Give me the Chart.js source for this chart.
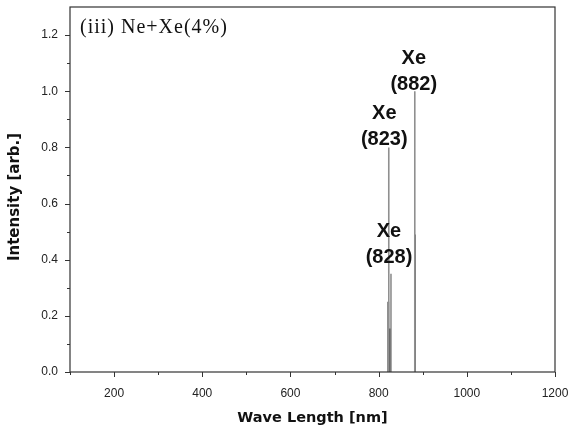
<!DOCTYPE html>
<html>
<head>
<meta charset="utf-8">
<script src="https://cdn.jsdelivr.net/npm/chart.js@4"></script>
<style>
  html, body { margin: 0; padding: 0; background: #fff; }
  #wrap { width: 572px; height: 434px; }
</style>
</head>
<body>
<div id="wrap"><canvas id="spectrum" width="572" height="434"></canvas></div>
<script>
// emission lines, wavelength in nm / relative intensity
const greyLines = [823, 828, 882];
const greyIntensity = [0.8, 0.35, 1.0];
const blackLines = [822, 826, 882];
const blackIntensity = [0.25, 0.155, 0.49];

const xTicks = [200, 400, 600, 800, 1000, 1200];
const yTicks = [0.0, 0.2, 0.4, 0.6, 0.8, 1.0, 1.2];

const peakLabels = ['Xe\n(882)', 'Xe\n(823)', 'Xe\n(828)'];
const peakLabelAt = [882, 823, 828];
const peakLabelLevel = [1.0, 0.8, 0.35];

// each line goes up from the baseline and back down, null breaks the path
function spikes(xs, ys) {
  const pts = [];
  xs.forEach((x, i) => {
    pts.push({ x: x, y: 0 }, { x: x, y: ys[i] }, { x: x, y: null });
  });
  return pts;
}

// pixel nudge of each label block relative to its line top
const labelShift = [[-1, -1], [-4.5, -2], [-2, -11]];

const frame = {
  id: 'frame',
  afterDraw(chart) {
    const { ctx, chartArea: a, scales } = chart;
    ctx.save();
    ctx.strokeStyle = '#333';
    ctx.lineWidth = 1.2;
    ctx.strokeRect(a.left, a.top, a.right - a.left, a.bottom - a.top);

    // outside ticks, major + minor
    ctx.lineWidth = 1;
    ctx.beginPath();
    for (let v = 100; v <= 1200; v += 100) {
      const px = Math.round(scales.x.getPixelForValue(v)) + 0.5;
      const len = v % 200 === 0 ? 5 : 3;
      ctx.moveTo(px, a.bottom);
      ctx.lineTo(px, a.bottom + len);
    }
    for (let i = 0; i <= 12; i++) {
      const py = Math.round(scales.y.getPixelForValue(i / 10)) + 0.5;
      const len = i % 2 === 0 ? 5 : 3;
      ctx.moveTo(a.left, py);
      ctx.lineTo(a.left - len, py);
    }
    ctx.stroke();

    // y axis title, sits a bit below the middle of the axis
    ctx.fillStyle = '#111';
    ctx.save();
    ctx.translate(15, 197);
    ctx.rotate(-Math.PI / 2);
    ctx.font = 'bold 15px "DejaVu Sans", Verdana, sans-serif';
    ctx.textAlign = 'center';
    ctx.textBaseline = 'middle';
    ctx.fillText('Intensity [arb.]', 0, 0);
    ctx.restore();

    // sample caption
    ctx.font = '20px "Liberation Serif", "Times New Roman", serif';
    ctx.letterSpacing = '1px';
    ctx.textBaseline = 'middle';
    ctx.textAlign = 'left';
    ctx.fillText('(iii) Ne+Xe(4%)', a.left + 10, 28);
    ctx.letterSpacing = '0px';

    // line labels
    ctx.font = 'bold 20px "Liberation Sans", Arial, sans-serif';
    ctx.textAlign = 'center';
    ctx.textBaseline = 'alphabetic';
    peakLabels.forEach((txt, i) => {
      const [l1, l2] = txt.split('\n');
      const px = scales.x.getPixelForValue(peakLabelAt[i]) + labelShift[i][0];
      const py = scales.y.getPixelForValue(peakLabelLevel[i]) + labelShift[i][1];
      ctx.fillText(l2, px, py);
      ctx.fillText(l1, px, py - 26);
    });
    ctx.restore();
  }
};

new Chart(document.getElementById('spectrum'), {
  type: 'scatter',
  data: {
    datasets: [
      {
        data: spikes(greyLines, greyIntensity),
        showLine: true,
        borderColor: '#8f8f8f',
        borderWidth: 1.6,
        pointRadius: 0,
        spanGaps: false
      },
      {
        data: spikes(blackLines, blackIntensity),
        showLine: true,
        borderColor: '#111',
        borderWidth: 1.6,
        pointRadius: 0,
        spanGaps: false
      }
    ]
  },
  options: {
    responsive: false,
    animation: false,
    layout: { padding: { top: 7, right: 17, left: 0, bottom: 0 } },
    plugins: { legend: { display: false }, tooltip: { enabled: false } },
    scales: {
      x: {
        type: 'linear',
        min: 100,
        max: 1200,
        afterBuildTicks: s => { s.ticks = xTicks.map(v => ({ value: v })); },
        afterFit: s => { s.height = 62; s.paddingLeft = 0; s.paddingRight = 0; },
        grid: { display: false, drawTicks: false },
        border: { display: false },
        ticks: {
          padding: 14,
          color: '#222',
          font: { family: '"Liberation Sans", Arial, sans-serif', size: 12 },
          maxRotation: 0,
          callback: v => String(v)
        },
        title: {
          display: true,
          text: 'Wave Length [nm]',
          color: '#111',
          font: { family: '"DejaVu Sans", Verdana, sans-serif', size: 14.5, weight: 'bold' },
          padding: { top: 0, bottom: 7 }
        }
      },
      y: {
        min: 0,
        max: 1.3,
        afterBuildTicks: s => { s.ticks = yTicks.map(v => ({ value: v })); },
        afterFit: s => { s.width = 70; s.paddingTop = 0; s.paddingBottom = 0; },
        grid: { display: false, drawTicks: false },
        border: { display: false },
        ticks: {
          padding: 12,
          color: '#222',
          font: { family: '"Liberation Sans", Arial, sans-serif', size: 12 },
          callback: v => v.toFixed(1)
        }
      }
    }
  },
  plugins: [frame]
});
</script>
</body>
</html>
